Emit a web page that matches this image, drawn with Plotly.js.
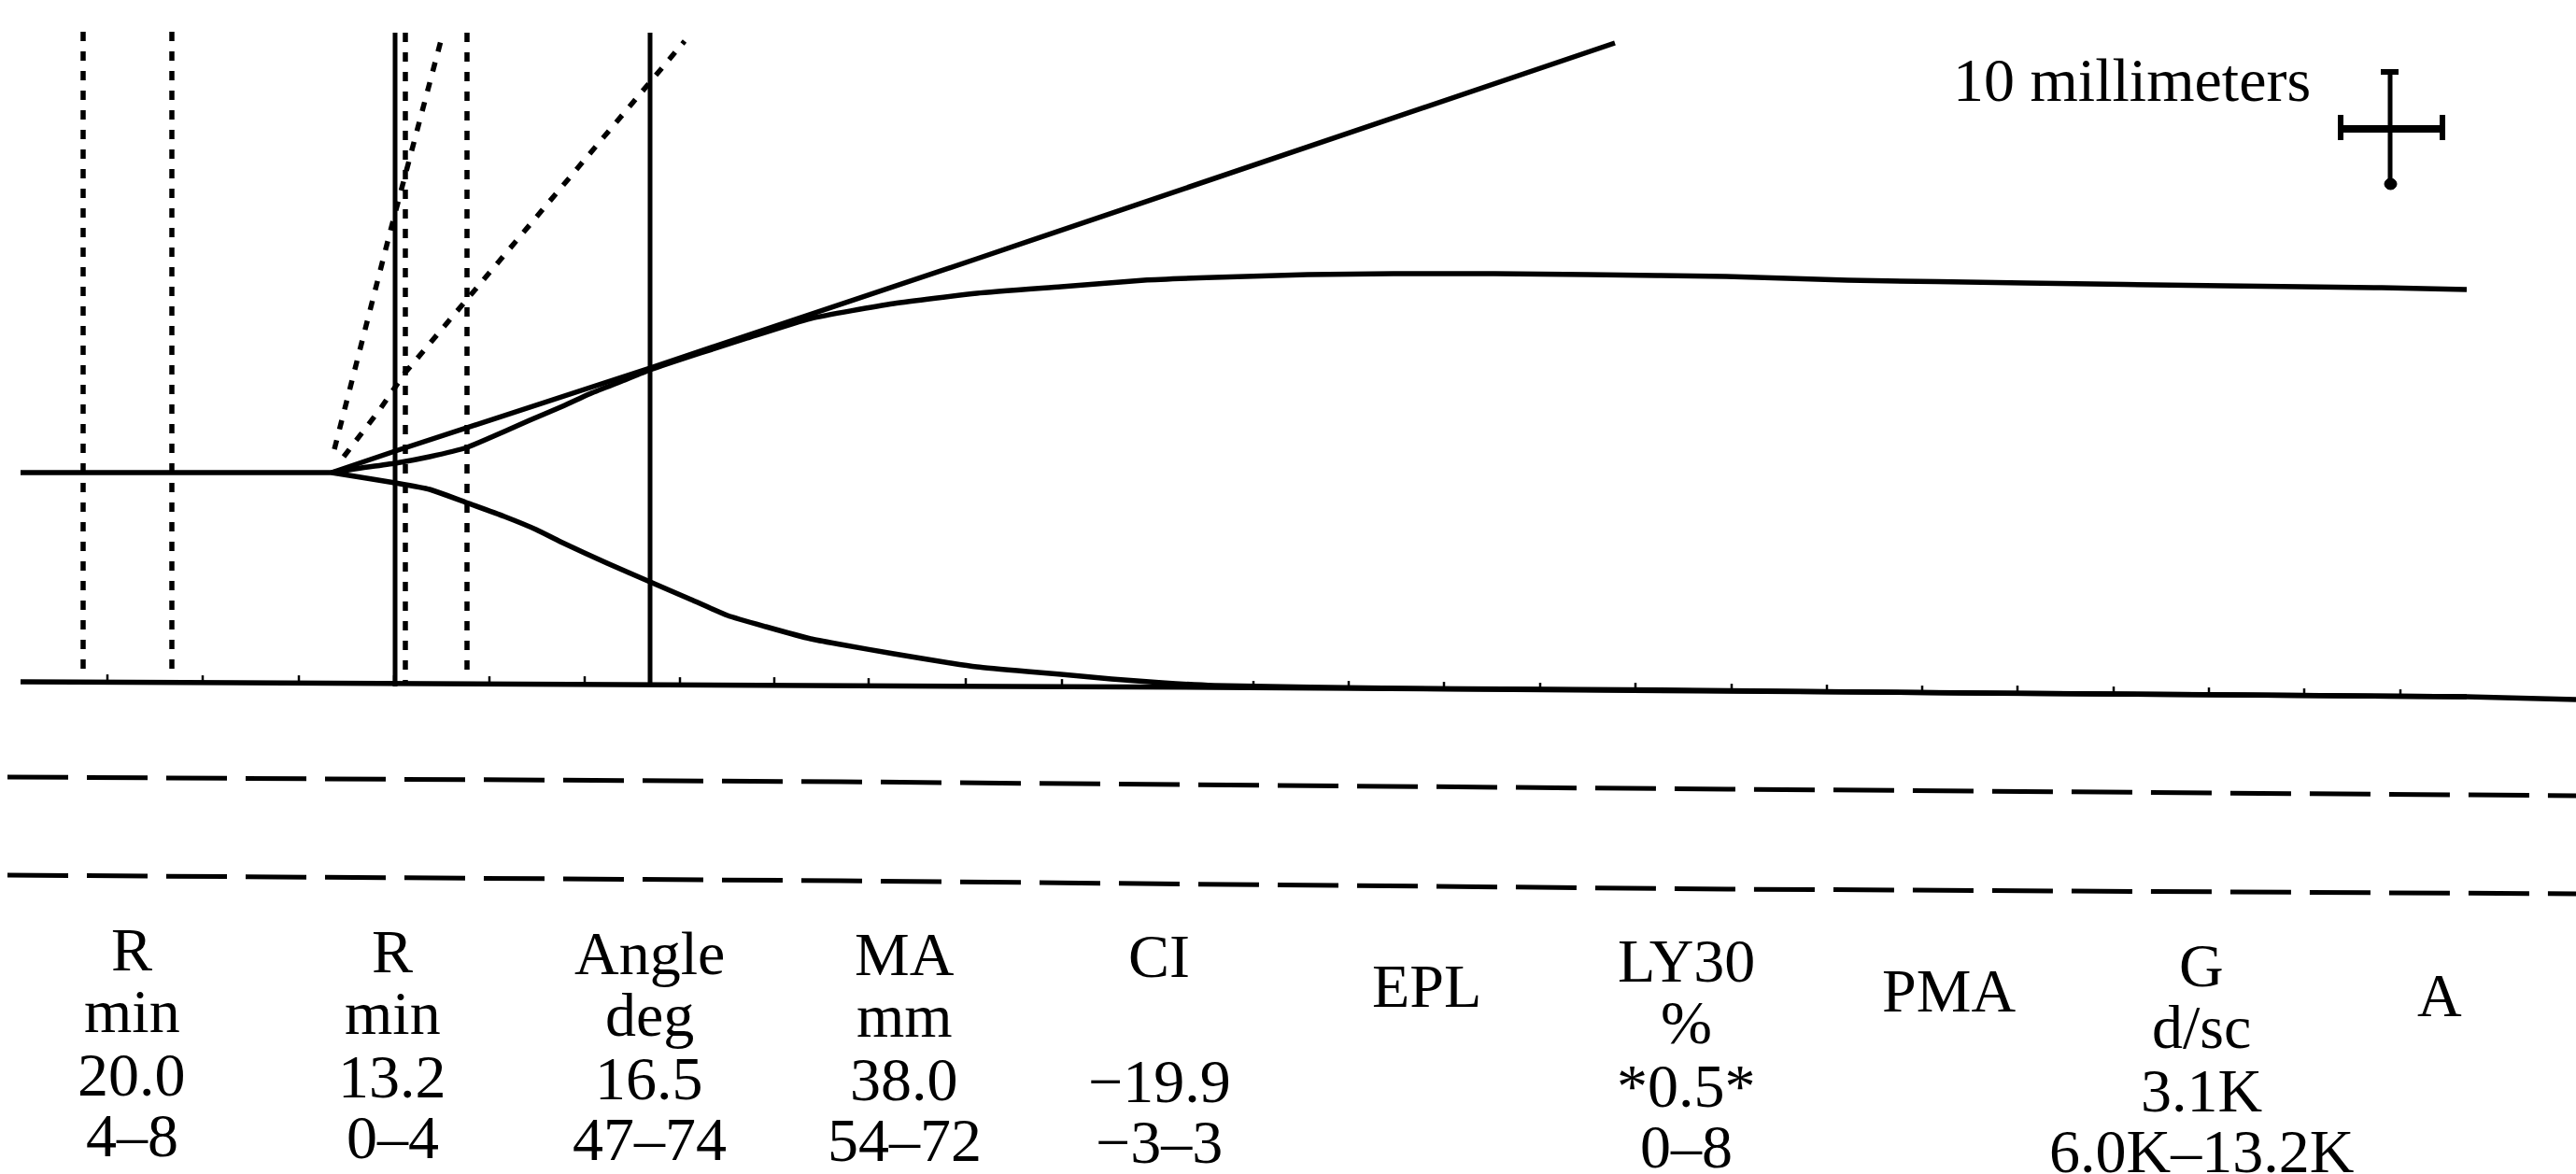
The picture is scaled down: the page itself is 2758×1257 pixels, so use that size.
<!DOCTYPE html>
<html>
<head>
<meta charset="utf-8">
<script src="https://cdn.plot.ly/plotly-3.0.1.min.js"></script>
<style>
html,body{margin:0;padding:0;background:#fff;}
#chart{width:2758px;height:1257px;}
</style>
</head>
<body>
<div id="chart"></div>
<script>
// ---- Tracing data (chart units: horizontal position, vertical position) ----
const baseX  = [22, 100, 200, 300, 355];
const baseY  = [506, 506, 505, 506, 506];

const upperX = [355, 380, 423, 460, 500, 540, 567, 600, 633, 666, 696, 750, 800, 868, 957, 1046, 1136, 1225, 1300, 1400, 1492, 1600, 1700, 1848, 1978, 2168, 2381, 2550, 2641];
const upperY = [506, 502, 496, 489, 479, 462, 450, 436, 421, 408, 396, 378, 362, 341, 325, 314, 307, 300, 297, 294, 293, 293, 294, 296, 300, 303, 306, 308, 310];

const lowerX = [355, 380, 423, 460, 499, 540, 574, 600, 650, 696, 740, 779, 820, 868, 900, 957, 1018, 1046, 1100, 1136, 1190, 1244, 1300, 1500, 1800, 2100, 2400, 2641];
const lowerY = [506, 510, 517, 524, 538, 553, 567, 580, 603, 623, 642, 659, 671, 684, 690, 700, 710, 714, 719, 722, 727, 731, 734, 737, 739, 742, 744, 746];

const straightX = [355, 423, 696, 1046, 1729];
const straightY = [506, 483, 394, 277, 46];

const bottomX = [22, 700, 1300, 2000, 2641, 2758];
const bottomY = [730, 733, 736, 741, 746, 749];

const tickX = [115, 217, 320, 422, 524, 626, 728, 829, 930, 1034, 1137, 1240, 1342, 1444, 1546, 1649, 1751, 1854, 1956, 2058, 2160, 2263, 2365, 2467, 2570];
const tickY = [727, 728, 728, 728, 729, 729, 730, 730, 731, 731, 732, 733, 734, 734, 735, 736, 736, 737, 738, 739, 739, 740, 741, 742, 743];

// vertical markers
const vDotX      = [89, 184, 434, 500];
const vDotTop    = [34, 34, 35, 35];
const vDotBottom = [717, 717, 730, 722];
const vSolidX      = [423, 696];
const vSolidTop    = [35, 35];
const vSolidBottom = [735, 734];

// angle tangent lines
const angleAX = [358, 417, 473];
const angleAY = [481, 251, 40];
const angleCX = [368, 407, 433, 733];
const angleCY = [489, 438, 400, 44];

// dashed horizontal reference lines
const dashX  = [8, 900, 1850, 2758];
const dash1Y = [832, 837, 845, 852];
const dash2Y = [937, 943, 952, 957];

// ---- Parameter table ----
const paramNames  = ['R', 'R', 'Angle', 'MA', 'CI', 'EPL', 'LY30', 'PMA', 'G', 'A'];
const paramUnits  = ['min', 'min', 'deg', 'mm', '', '', '%', '', 'd/sc', ''];
const paramValues = ['20.0', '13.2', '16.5', '38.0', '\u221219.9', '', '*0.5*', '', '3.1K', ''];
const paramRanges = ['4\u20138', '0\u20134', '47\u201374', '54\u201372', '\u22123\u20133', '', '0\u20138', '', '6.0K\u201313.2K', ''];

const colX    = [141, 420, 695, 968, 1241, 1527, 1805, 2086, 2357, 2612];
const colBase = [1038, 1040, 1042, 1043, 1045, 1077, 1050, 1082, 1055, 1087];
const rowOffsets = [0, 66, 134, 199];

const scaleLabel = '10 millimeters';

// ---- Build traces ----
const K = '#000';
const traces = [];
function line(x, y, w, dash, shape) {
  traces.push({x: x, y: y, type: 'scatter', mode: 'lines', hoverinfo: 'skip',
    line: {color: K, width: w, dash: dash || 'solid', shape: shape || 'linear', smoothing: 0.5}});
}
line(baseX, baseY, 5.5);
line(upperX, upperY, 5.5, 'solid', 'spline');
line(lowerX, lowerY, 5.5, 'solid', 'spline');
line(straightX, straightY, 5.5);
line(bottomX, bottomY, 5.5);
for (let i = 0; i < vDotX.length; i++) line([vDotX[i], vDotX[i]], [vDotTop[i], vDotBottom[i]], 5.5, '10px,11px');
for (let i = 0; i < vSolidX.length; i++) line([vSolidX[i], vSolidX[i]], [vSolidTop[i], vSolidBottom[i]], 5);
line(angleAX, angleAY, 5.5, '10px,12px');
line(angleCX, angleCY, 5.5, '10px,12px');
line(dashX, dash1Y, 5, '65px,20px');
line(dashX, dash2Y, 5, '65px,20px');
traces.push({x: tickX, y: tickY, type: 'scatter', mode: 'markers', hoverinfo: 'skip',
  marker: {symbol: 'line-ns', size: 7, color: K, line: {color: K, width: 2.5}}});

// ---- Annotations ----
const FONT = {family: '"Liberation Serif", "Times New Roman", serif', size: 66, color: K};
const annotations = [];
const rows = [paramNames, paramUnits, paramValues, paramRanges];
for (let c = 0; c < colX.length; c++) {
  for (let r = 0; r < rows.length; r++) {
    const t = rows[r][c];
    if (!t) continue;
    annotations.push({x: colX[c], y: colBase[c] + rowOffsets[r] - 22, xref: 'x', yref: 'y',
      text: t, showarrow: false, xanchor: 'center', yanchor: 'middle', font: FONT});
  }
}
annotations.push({x: 2282, y: 85, xref: 'x', yref: 'y', text: scaleLabel, showarrow: false,
  xanchor: 'center', yanchor: 'middle', font: FONT});

// ---- Scale cross (10 mm) ----
const shapes = [
  {type: 'line', x0: 2559, x1: 2559, y0: 75, y1: 198, line: {color: K, width: 5}},
  {type: 'line', x0: 2549, x1: 2568, y0: 77, y1: 77, line: {color: K, width: 6}},
  {type: 'circle', x0: 2553, x1: 2566, y0: 191, y1: 203, fillcolor: K, line: {color: K, width: 1}},
  {type: 'line', x0: 2506, x1: 2615, y0: 138, y1: 138, line: {color: K, width: 8}},
  {type: 'line', x0: 2506, x1: 2506, y0: 123, y1: 150, line: {color: K, width: 6}},
  {type: 'line', x0: 2615, x1: 2615, y0: 123, y1: 150, line: {color: K, width: 6}}
];

const layout = {
  width: 2758, height: 1257,
  margin: {l: 0, r: 0, t: 0, b: 0, pad: 0},
  paper_bgcolor: '#fff', plot_bgcolor: '#fff',
  showlegend: false,
  xaxis: {range: [0, 2758], visible: false, fixedrange: true},
  yaxis: {range: [1257, 0], visible: false, fixedrange: true},
  annotations: annotations,
  shapes: shapes
};
Plotly.newPlot('chart', traces, layout, {staticPlot: true, displayModeBar: false});
</script>
</body>
</html>
